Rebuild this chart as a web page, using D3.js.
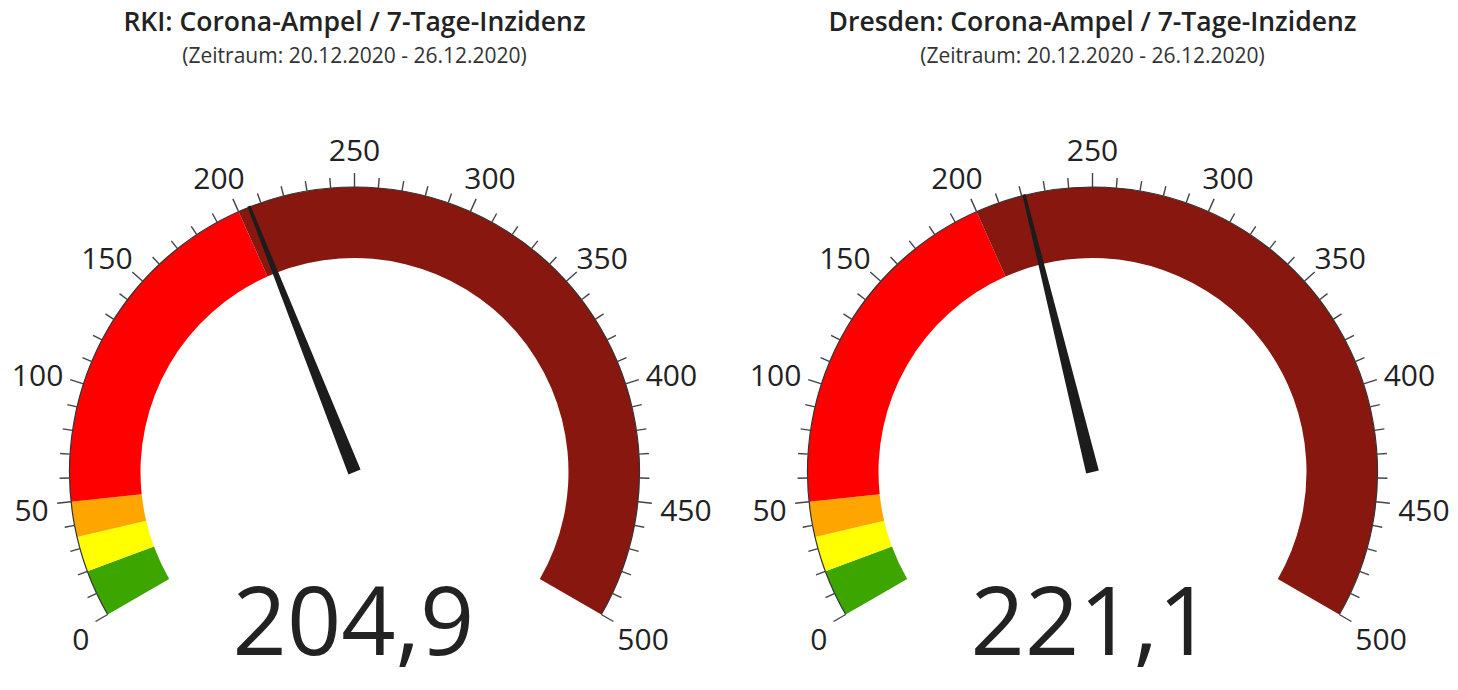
<!DOCTYPE html>
<html>
<head>
<meta charset="utf-8">
<script src="https://cdn.jsdelivr.net/npm/d3@7"></script>
<style>
  html, body { margin: 0; padding: 0; background: #fff; }
  svg { display: block; }
</style>
</head>
<body>
<svg id="chart" width="1458" height="690"></svg>
<script>
// ---- data ----
const gaugeTitles = ["RKI: Corona-Ampel / 7-Tage-Inzidenz", "Dresden: Corona-Ampel / 7-Tage-Inzidenz"];
const gaugeSubtitles = ["(Zeitraum: 20.12.2020 - 26.12.2020)", "(Zeitraum: 20.12.2020 - 26.12.2020)"];
const gaugeValues = [204.9, 221.1];
const bandFrom = [0, 20, 35, 50, 200];
const bandTo = [20, 35, 50, 200, 500];
const bandColors = ["#3ca500", "#ffff00", "#ffa500", "#ff0000", "#87170f"];
const tickLabels = [0, 50, 100, 150, 200, 250, 300, 350, 400, 450, 500];
const minorTicks = d3.range(0, 501, 10);
const axisMin = 0, axisMax = 500;

// ---- layout ----
const svg = d3.select("#chart");
const centersX = [354.5, 1092.5];
const cy = 472;
const rOuter = 285, rInner = 214;
const deg = Math.PI / 180;
const angle = d3.scaleLinear().domain([axisMin, axisMax]).range([-120 * deg, 120 * deg]);
const locale = d3.formatLocale({decimal: ",", thousands: ".", grouping: [3], currency: ["", "€"]});
const fmt = locale.format(".1f");
const arc = d3.arc().innerRadius(rInner).outerRadius(rOuter);

gaugeValues.forEach((val, gi) => {
  const cx = centersX[gi];
  const g = svg.append("g").attr("transform", `translate(${cx},${cy})`);

  // titles
  svg.append("text").attr("x", cx).attr("y", 31).attr("text-anchor", "middle")
    .attr("font-family", "Open Sans").attr("font-weight", 600).attr("font-size", 26.5)
    .attr("fill", "#222").text(gaugeTitles[gi]);
  svg.append("text").attr("x", cx).attr("y", 63).attr("text-anchor", "middle")
    .attr("font-family", "Open Sans").attr("font-weight", 400).attr("font-size", 21)
    .attr("fill", "#333").text(gaugeSubtitles[gi]);

  // bands: split the last band at the value
  const bands = [];
  bandFrom.forEach((f, i) => {
    const t = bandTo[i];
    if (val > f && val < t) {
      bands.push({f: f, t: val, c: bandColors[i]});
      bands.push({f: val, t: t, c: bandColors[i]});
    } else bands.push({f: f, t: t, c: bandColors[i]});
  });
  g.selectAll("path.band").data(bands).join("path").attr("class", "band")
    .attr("d", d => arc({startAngle: angle(d.f), endAngle: angle(d.t)}))
    .attr("fill", d => d.c);

  // outer line
  g.append("path")
    .attr("d", d3.arc().innerRadius(rOuter).outerRadius(rOuter)({startAngle: angle(axisMin), endAngle: angle(axisMax)}))
    .attr("fill", "none").attr("stroke", "#333").attr("stroke-width", 1.2);

  // ticks
  g.selectAll("line.tick").data(minorTicks).join("line").attr("class", "tick")
    .attr("x1", d => rOuter * Math.sin(angle(d)))
    .attr("y1", d => -rOuter * Math.cos(angle(d)))
    .attr("x2", d => (rOuter + (d % 50 === 0 ? 14 : 10)) * Math.sin(angle(d)))
    .attr("y2", d => -(rOuter + (d % 50 === 0 ? 14 : 10)) * Math.cos(angle(d)))
    .attr("stroke", "#444").attr("stroke-width", 1.4);

  // labels
  const rLabX = 307.5, rLabY = 326, capH = 21.4;
  g.selectAll("text.lab").data(tickLabels).join("text").attr("class", "lab")
    .attr("font-family", "Open Sans").attr("font-size", 30).attr("fill", "#222")
    .attr("text-anchor", "middle")
    .text(d => d)
    .each(function(d) {
      const w = this.getComputedTextLength();
      const a = angle(d);
      const s = Math.sin(a), c = Math.cos(a);
      const x = (rLabX + w / 2) * s;
      const yc = -rLabY * c + 4;
      d3.select(this).attr("x", x).attr("y", yc + capH / 2);
    });

  // needle
  const a = angle(val);
  const baseW = 6.5, tipW = 1.6, tipR = 286;
  const s = Math.sin(a), c = Math.cos(a);
  const px = c, py = s;
  const pts = [
    [baseW * px, baseW * py],
    [tipR * s + tipW * px, -tipR * c + tipW * py],
    [tipR * s - tipW * px, -tipR * c - tipW * py],
    [-baseW * px, -baseW * py]
  ];
  g.append("path").attr("d", d3.line()(pts) + "Z").attr("fill", "#1c1c1c");

  // value
  svg.append("text").attr("x", cx - 1).attr("y", 655).attr("text-anchor", "middle")
    .attr("font-family", "Open Sans").attr("font-weight", 400).attr("font-size", 95)
    .attr("fill", "#222").text(fmt(val));
});
</script>
</body>
</html>
